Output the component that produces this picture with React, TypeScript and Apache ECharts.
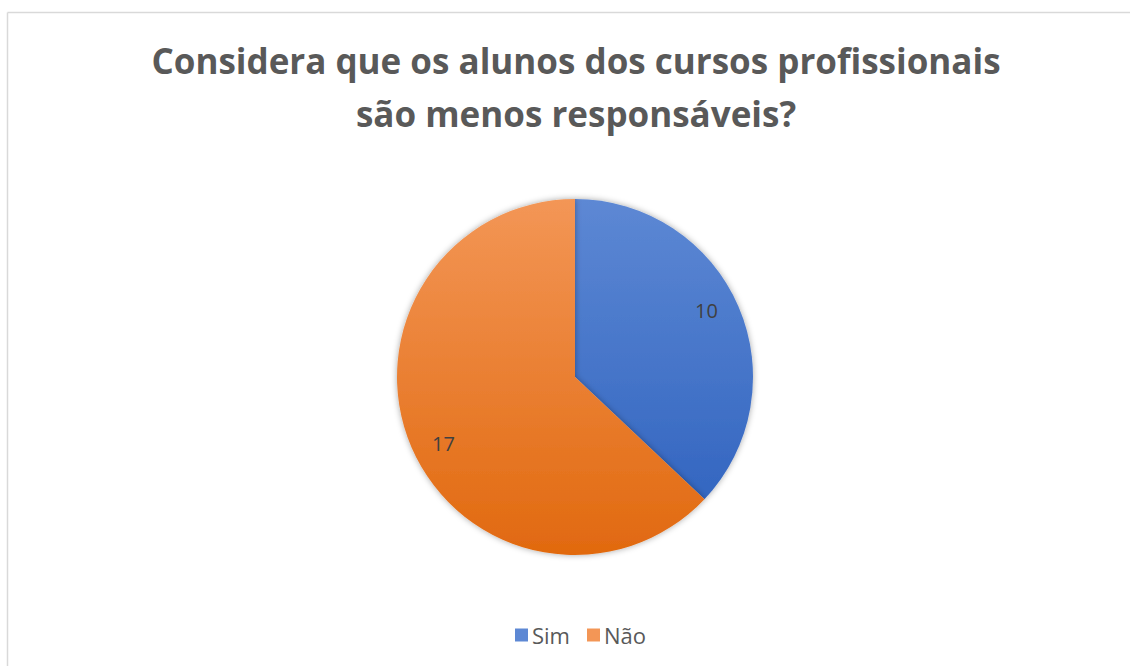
import React, { useEffect, useRef } from "react";
import * as echarts from "echarts";

const titleLines = ["Considera que os alunos dos cursos profissionais", "são menos responsáveis?"];
const categories = ["Sim", "Não"];
const values = [10, 17];
const topColors = ["#5d88d4", "#f39656"];
const bottomColors = ["#2c60bd", "#e1690f"];

export default function App() {
  const ref = useRef<HTMLDivElement>(null);
  useEffect(() => {
    if (!ref.current) return;
    const chart = echarts.init(ref.current, null, { renderer: "svg" });
    const cy = 377;
    const r = 178;
    const data = categories.map((name, i) => ({
      name,
      value: values[i],
      itemStyle: {
        color: new echarts.graphic.LinearGradient(0, cy - r, 0, cy + r, [
          { offset: 0, color: topColors[i] },
          { offset: 1, color: bottomColors[i] },
        ], true),
      },
    }));
    chart.setOption({
      animation: false,
      backgroundColor: "#ffffff",
      title: {
        text: titleLines.join("\n"),
        left: 571,
        textAlign: "center",
        top: 29,
        textStyle: {
          fontFamily: "Open Sans",
          fontWeight: "bold",
          fontSize: 35,
          color: "#595959",
          lineHeight: 53,
        },
      },
      legend: {
        bottom: 15,
        left: 510,
        icon: "rect",
        itemWidth: 13,
        itemHeight: 13,
        itemGap: 17,
        textStyle: { fontFamily: "Open Sans", fontSize: 22, color: "#595959", padding: [0, 0, 0, -1] },
        data: categories,
      },
      graphic: [
        {
          type: "line",
          shape: { x1: 7.5, y1: 12.5, x2: 1130, y2: 12.5 },
          style: { stroke: "#d9d9d9", lineWidth: 1.5 },
          silent: true,
        },
        {
          type: "line",
          shape: { x1: 7.5, y1: 12.5, x2: 7.5, y2: 666 },
          style: { stroke: "#d9d9d9", lineWidth: 1.5 },
          silent: true,
        },
      ],
      series: [
        {
          type: "pie",
          center: [575, cy],
          radius: [0, r],
          startAngle: 90,
          clockwise: true,
          label: { show: false },
          labelLine: { show: false },
          itemStyle: {
            borderWidth: 0,
            shadowBlur: 6,
            shadowColor: "rgba(0,0,0,0.35)",
          },
          emphasis: { disabled: true },
          data,
        },
        {
          type: "pie",
          center: [575, cy],
          radius: [r * 0.62, r],
          startAngle: 93.4,
          clockwise: true,
          silent: true,
          legendHoverLink: false,
          itemStyle: { color: "rgba(0,0,0,0)" },
          label: {
            show: true,
            position: "inside",
            formatter: "{c}",
            fontFamily: "Open Sans",
            fontSize: 20,
            color: "#404040",
          },
          labelLine: { show: false },
          emphasis: { disabled: true },
          data: categories.map((name, i) => ({ name: name + " ", value: values[i] })),
        },
      ],
    });
    return () => chart.dispose();
  }, []);
  return (
    <div
      ref={ref}
      style={{ position: "fixed", left: 0, top: 0, width: 1131, height: 666 }}
    />
  );
}
